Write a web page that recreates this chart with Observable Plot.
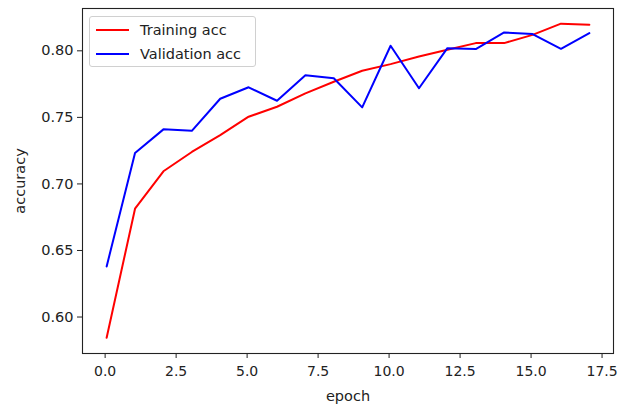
<!DOCTYPE html>
<html>
<head>
<meta charset="utf-8">
<script src="https://cdn.jsdelivr.net/npm/d3@7"></script>
<script src="https://cdn.jsdelivr.net/npm/@observablehq/plot@0.6"></script>
<style>
  html, body { margin: 0; padding: 0; background: #fff; overflow: hidden; }
  #wrap { position: relative; width: 618px; height: 405px; font-family: "DejaVu Sans", sans-serif; }
  #wrap svg { overflow: visible; }
  #legend { position: absolute; left: 89px; top: 16px; width: 167px; height: 51px; box-sizing: border-box;
    border: 1px solid #d0d0d0; border-radius: 3px; background: rgba(255,255,255,0.85); font-size: 14.5px; color: #222; }
  .row { position: absolute; left: 0; height: 20px; display: flex; align-items: center; }
  .swatch { position: absolute; left: 6px; width: 33px; height: 2px; }
  .lab { position: absolute; left: 50px; white-space: nowrap; line-height: 20px; }
</style>
</head>
<body>
<div id="wrap"></div>
<script>
const epochs = [0, 1, 2, 3, 4, 5, 6, 7, 8, 9, 10, 11, 12, 13, 14, 15, 16, 17];
const trainingAcc = [0.5844, 0.6814, 0.7095, 0.7240, 0.7367, 0.7505, 0.7580, 0.7680, 0.7768, 0.7850, 0.7900, 0.7957, 0.8008, 0.8058, 0.8058, 0.8120, 0.8204, 0.8196];
const validationAcc = [0.6380, 0.7233, 0.7410, 0.7399, 0.7640, 0.7726, 0.7625, 0.7817, 0.7794, 0.7575, 0.8038, 0.7719, 0.8020, 0.8013, 0.8138, 0.8126, 0.8015, 0.8133];
const seriesNames = ["Training acc", "Validation acc"];
const seriesColors = ["#ff0000", "#0000ff"];
const xTicks = [0, 2.5, 5, 7.5, 10, 12.5, 15, 17.5];
const yTicks = [0.60, 0.65, 0.70, 0.75, 0.80];

const rows = [];
epochs.forEach((e, i) => {
  rows.push({epoch: e, acc: trainingAcc[i], series: seriesNames[0]});
  rows.push({epoch: e, acc: validationAcc[i], series: seriesNames[1]});
});

const chart = Plot.plot({
  width: 618,
  height: 405,
  marginLeft: 82,
  marginRight: 5,
  marginTop: 8,
  marginBottom: 52,
  style: {fontFamily: "DejaVu Sans", fontSize: "14.5px", color: "#222", background: "#fff", overflow: "visible"},
  x: {domain: [-0.85, 17.85]},
  y: {domain: [0.5726, 0.8318]},
  color: {domain: seriesNames, range: seriesColors},
  marks: [
    Plot.axisX({ticks: xTicks, tickFormat: d3.format(".1f"), tickSize: 5, tickPadding: 8,
      fontSize: 14, dx: -1.5, label: null}),
    Plot.axisX({ticks: [], label: "epoch", labelAnchor: "center", labelArrow: "none", labelOffset: 47}),
    Plot.axisY({ticks: yTicks, tickFormat: d3.format(".2f"), tickSize: 5, tickPadding: 4,
      label: "accuracy", labelAnchor: "center", labelArrow: "none", labelOffset: 68}),
    Plot.line(rows, {x: "epoch", y: "acc", z: "series", stroke: "series", strokeWidth: 2}),
    Plot.frame({stroke: "#222", strokeWidth: 1.1})
  ]
});

const wrap = document.getElementById("wrap");
wrap.appendChild(chart);

const legend = document.createElement("div");
legend.id = "legend";
seriesNames.forEach((name, i) => {
  const row = document.createElement("div");
  row.className = "row";
  row.style.top = (3 + i * 24) + "px";
  row.style.width = "100%";
  const sw = document.createElement("div");
  sw.className = "swatch";
  sw.style.background = seriesColors[i];
  sw.style.top = "9px";
  const lab = document.createElement("div");
  lab.className = "lab";
  lab.textContent = name;
  row.appendChild(sw);
  row.appendChild(lab);
  legend.appendChild(row);
});
wrap.appendChild(legend);
</script>
</body>
</html>
